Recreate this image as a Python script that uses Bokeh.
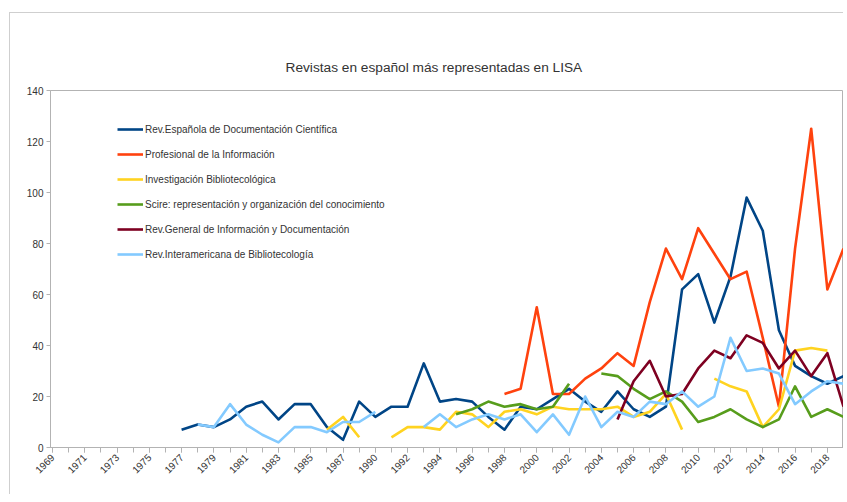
import math
import numpy as np
from bokeh.plotting import figure
from bokeh.models import Range1d, FixedTicker, Legend, LegendItem, ColumnDataSource, InlineStyleSheet
from bokeh.embed import file_html
from bokeh.resources import INLINE

N = None

# Categories (one year is absent from the source data between 1987 and 1990)
years = list(range(1969, 1989)) + list(range(1990, 2020))

series_names = [
    "Rev.Española de Documentación Científica",
    "Profesional de la Información",
    "Investigación Bibliotecológica",
    "Scire: representación y organización del conocimiento",
    "Rev.General de Información y Documentación",
    "Rev.Interamericana de Bibliotecología",
]
series_colors = ["#004586", "#ff420e", "#ffd320", "#579d1c", "#7e0021", "#83caff"]

rev_espanola = [
    N, N, N, N, N, N, N, N, 7, 9,            # 1969-1978
    8, 11, 16, 18, 11, 17, 17, 8, 3, 18,     # 1979-1988
    12, 16, 16, 33, 18, 19, 18, 12, 7, 16,   # 1990-1999
    15, 19, 23, 18, 14, 22, 15, 12, 16, 62,  # 2000-2009
    68, 49, 67, 98, 85, 46, 32, 28, 25, 28,  # 2010-2019
]
profesional = [
    N, N, N, N, N, N, N, N, N, N,
    N, N, N, N, N, N, N, N, N, N,
    N, N, N, N, N, N, N, N, 21, 23,
    55, 21, 21, 27, 31, 37, 32, 57, 78, 66,
    86, 76, 66, 69, 43, 16, 78, 125, 62, 78,
]
investigacion = [
    N, N, N, N, N, N, N, N, N, N,
    N, N, N, N, N, N, N, 7, 12, 4,
    N, 4, 8, 8, 7, 14, 13, 8, 14, 15,
    13, 16, 15, 15, 15, 16, 12, 14, 21, 7,
    N, 27, 24, 22, 8, 15, 38, 39, 38, N,
]
scire = [
    N, N, N, N, N, N, N, N, N, N,
    N, N, N, N, N, N, N, N, N, N,
    N, N, N, N, N, 13, 15, 18, 16, 17,
    15, 16, 25, N, 29, 28, 23, 19, 22, 18,
    10, 12, 15, 11, 8, 11, 24, 12, 15, 12,
]
rev_general = [
    N, N, N, N, N, N, N, N, N, N,
    N, N, N, N, N, N, N, N, N, N,
    N, N, N, N, N, N, N, N, N, N,
    N, N, N, N, N, 11, 26, 34, 20, 21,
    31, 38, 35, 44, 41, 31, 38, 28, 37, 16,
]
rev_interamericana = [
    N, N, N, N, N, N, N, N, N, 9,
    8, 17, 9, 5, 2, 8, 8, 6, 10, 10,
    14, N, N, 8, 13, 8, 11, 13, 11, 13,
    6, 13, 5, 20, 8, 14, 12, 18, 17, 22,
    16, 20, 43, 30, 31, 29, 17, 22, 26, 25,
]

y_ticks = [0, 20, 40, 60, 80, 100, 120, 140]
title_text = "Revistas en español más representadas en LISA"

all_series = [rev_espanola, profesional, investigacion, scire, rev_general, rev_interamericana]

def nanify(vals):
    return [np.nan if v is None else v for v in vals]

idx = list(range(len(years)))
data = {"x": idx}
for k, s in enumerate(all_series):
    data["s%d" % k] = nanify(s)
src = ColumnDataSource(data)

FONT = "Liberation Sans"
GRAY = "#b3b3b3"
TXT = "#333333"

p = figure(width=843, height=494,
           x_range=Range1d(-0.12, len(years) - 1),
           y_range=Range1d(y_ticks[0], y_ticks[-1]),
           output_backend="svg", toolbar_location=None,
           min_border_left=50, min_border_right=0,
           min_border_top=90, min_border_bottom=47)

# transparent canvas border so that the host's CSS frame line shows through
p.border_fill_color = None
p.background_fill_color = "white"
p.outline_line_color = GRAY
p.outline_line_width = 1
p.stylesheets = [InlineStyleSheet(css=(
    ":host { background-color: #ffffff; "
    "box-shadow: inset 9px 12px 0 0 #ffffff, inset 10px 13px 0 0 #cfcfcf; }"))]

p.title.text = title_text
p.title.align = "left"
p.title.offset = 235
p.title.standoff = 31
p.title.text_font = FONT
p.title.text_font_size = "13.7px"
p.title.text_font_style = "normal"
p.title.text_color = TXT

p.xgrid.grid_line_color = None
p.ygrid.grid_line_color = None

xa = p.xaxis[0]
xa.ticker = FixedTicker(ticks=list(range(0, len(years), 2)), minor_ticks=idx)
xa.major_label_overrides = {i: str(years[i]) for i in range(0, len(years), 2)}
xa.major_label_orientation = math.pi / 4
xa.major_label_text_font = FONT
xa.major_label_text_font_size = "10px"
xa.major_label_text_color = TXT
xa.major_label_standoff = 3
xa.axis_line_color = GRAY
xa.major_tick_line_color = GRAY
xa.minor_tick_line_color = GRAY
xa.major_tick_in = 0
xa.major_tick_out = 5
xa.minor_tick_in = 0
xa.minor_tick_out = 5

ya = p.yaxis[0]
ya.ticker = FixedTicker(ticks=y_ticks)
ya.major_label_text_font = FONT
ya.major_label_text_font_size = "10px"
ya.major_label_text_color = TXT
ya.major_label_standoff = 3
ya.axis_line_color = GRAY
ya.major_tick_line_color = GRAY
ya.minor_tick_line_color = None
ya.major_tick_in = 0
ya.major_tick_out = 4

items = []
for k, (name, col) in enumerate(zip(series_names, series_colors)):
    r = p.line(x="x", y="s%d" % k, source=src, line_color=col, line_width=2.6,
               line_join="round")
    items.append(LegendItem(label=name, renderers=[r]))

legend = Legend(items=items, location=(67, 183),
                glyph_width=26, glyph_height=20, label_height=20,
                spacing=5, padding=0, margin=0, label_standoff=2,
                border_line_color=None, background_fill_alpha=0,
                label_text_font=FONT, label_text_font_size="10px",
                label_text_color=TXT)
p.add_layout(legend)

open("out.html", "w").write(file_html(p, INLINE))
